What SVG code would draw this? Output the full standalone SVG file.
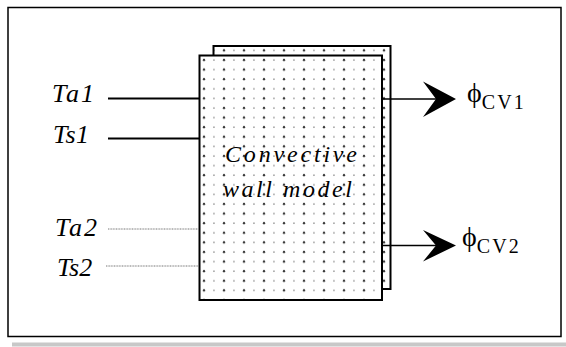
<svg xmlns="http://www.w3.org/2000/svg" width="566" height="347" viewBox="0 0 566 347">
<style>
.lbl{font-family:"Liberation Serif","DejaVu Serif",serif;font-style:italic;font-size:26px;fill:#000}
.mid{font-family:"Liberation Serif","DejaVu Serif",serif;font-style:italic;font-size:24px;fill:#000}
.phi{font-family:"Liberation Serif","DejaVu Serif",serif;font-size:28px;fill:#000}
.sub{font-family:"Liberation Serif","DejaVu Serif",serif;font-size:20px;fill:#000}
.box{fill:url(#dots);stroke:#000;stroke-width:2}
.solid{stroke:#000;stroke-width:1.8;fill:none}
.thin{stroke:#777;stroke-width:1;stroke-dasharray:1 0.6;fill:none}
.out{stroke:#000;stroke-width:1.5;fill:none}
.head{fill:#000;stroke:none}
</style>
<defs>
<pattern id="dots" patternUnits="userSpaceOnUse" x="201" y="57" width="20" height="9.6">
<rect width="20" height="9.6" fill="#fff"/>
<circle cx="3" cy="3" r="1.2" fill="#3a3a3a"/>
<rect x="12.2" y="2.5" width="1.5" height="1" fill="#666"/>
</pattern>
</defs>
<rect width="566" height="347" fill="#fff"/>
<rect id="frame" x="8" y="7.5" width="553" height="329" fill="none" stroke="#000" stroke-width="1.5"/>
<rect x="12" y="342.5" width="554" height="4" fill="#c8c8c8"/>
<g id="wall-model">
<rect class="box" x="213.5" y="46" width="177" height="243"/>
<rect class="box" x="199.5" y="55.5" width="182.5" height="244.5"/>
<text class="mid" x="225" y="162" textLength="132" lengthAdjust="spacing">Convective</text>
<text class="mid" x="223" y="197" textLength="129" lengthAdjust="spacing">wall model</text>
</g>
<g id="in-ta1"><text class="lbl" x="52" y="101.5" textLength="42" lengthAdjust="spacing">Ta1</text></g>
<g id="in-ts1"><text class="lbl" x="53" y="142.5" textLength="36" lengthAdjust="spacing">Ts1</text></g>
<g id="in-ta2"><text class="lbl" x="55" y="236" textLength="42" lengthAdjust="spacing">Ta2</text></g>
<g id="in-ts2"><text class="lbl" x="57" y="275.5" font-size="29">Ts2</text></g>
<g id="out-cv1"><text class="phi" x="467" y="102">ϕ<tspan class="sub" dy="7" textLength="42" lengthAdjust="spacing">CV1</tspan></text></g>
<g id="out-cv2"><text class="phi" x="462" y="246">ϕ<tspan class="sub" dy="7" textLength="42" lengthAdjust="spacing">CV2</tspan></text></g>
<g id="connectors">
<line class="solid" x1="108" y1="98.5" x2="199" y2="98.5"/>
<line class="solid" x1="108" y1="138.5" x2="199" y2="138.5"/>
<line class="thin" x1="108" y1="229" x2="199" y2="229"/>
<line class="thin" x1="106" y1="266" x2="199" y2="266"/>
<line class="out" x1="383" y1="99" x2="438" y2="99"/>
<polygon class="head" points="423,81.5 456,99 423,117 436,99"/>
<line class="out" x1="383" y1="245.5" x2="438" y2="245.5"/>
<polygon class="head" points="423,230 456,245.5 423,261.5 436,245.5"/>
</g>
</svg>
